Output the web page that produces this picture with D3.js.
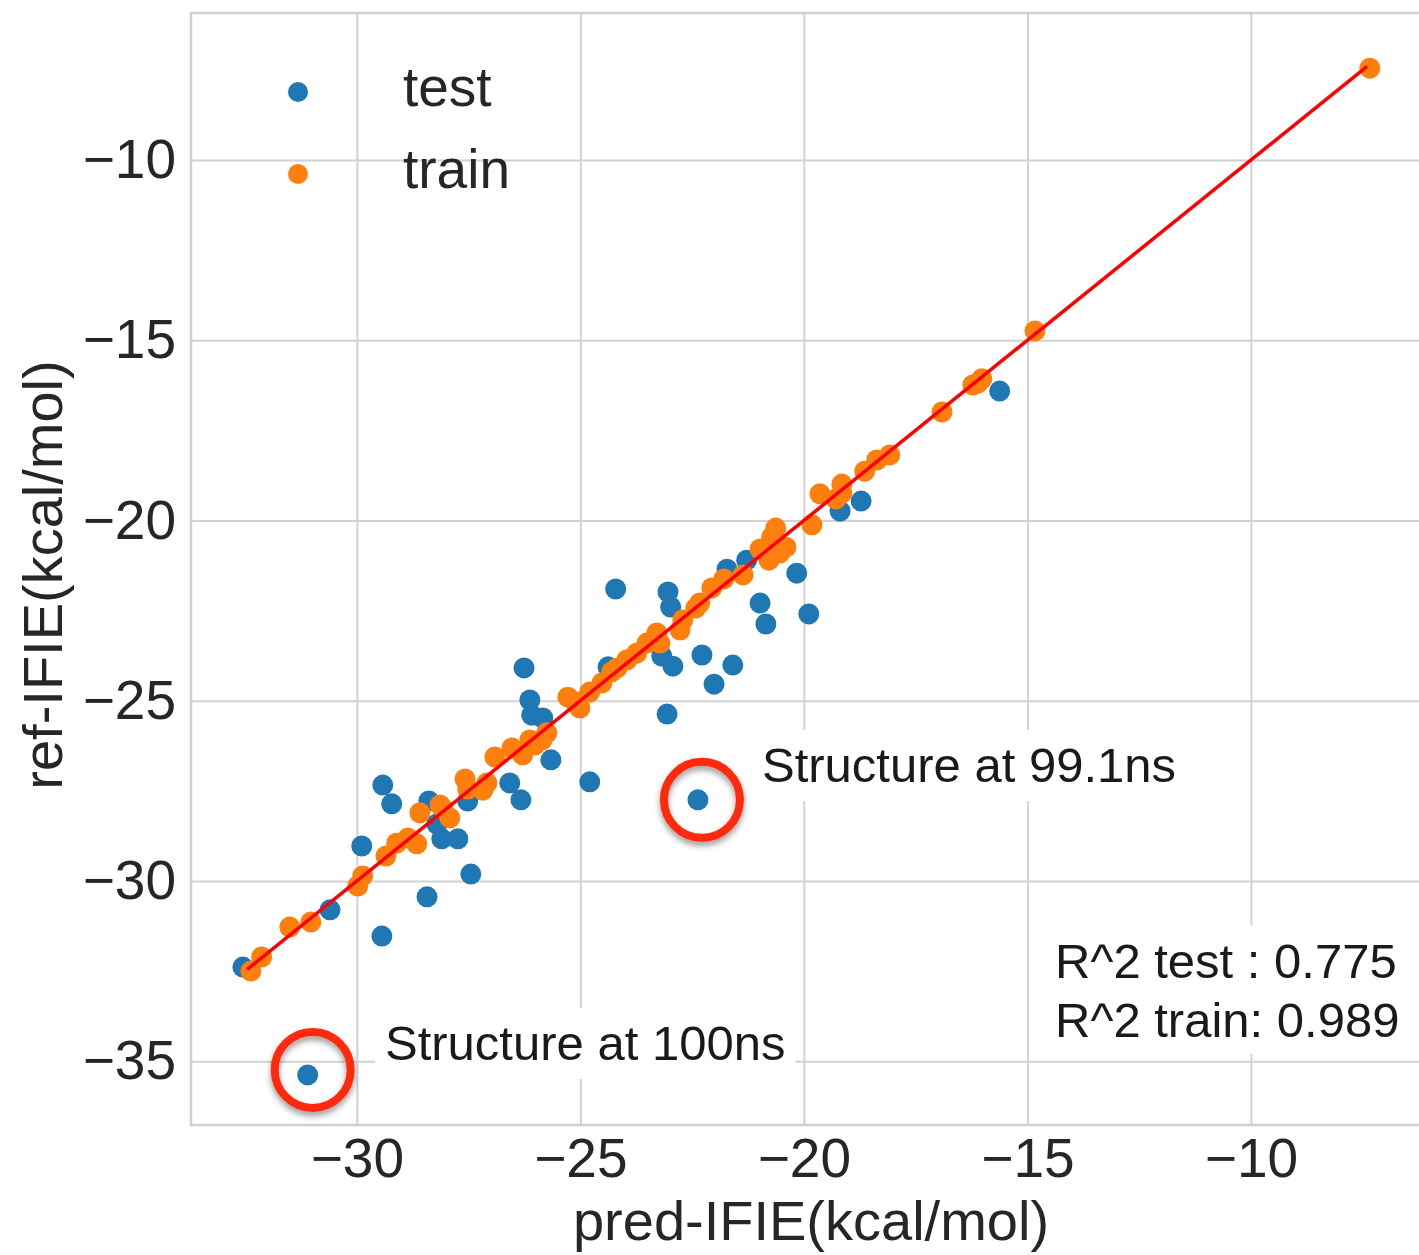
<!DOCTYPE html>
<html>
<head>
<meta charset="utf-8">
<title>IFIE parity plot</title>
<script src="https://d3js.org/d3.v7.min.js"></script>
<style>
    body {
        margin: 0;
        background: #fff;
        font-family: 'Liberation Sans', Arial, Helvetica, sans-serif;
    }
    .grid line {
        stroke: #d2d2d2;
        stroke-width: 2px;
    }
    .grid path {
        display: none;
    }
    .tickLabels path {
        display: none;
    }
    .tickLabels text {
        font-size: 55px;
        fill: #262626;
    }
    .axisTitle {
        font-size: 56px;
        fill: #262626;
    }
    .note {
        font-size: 49px;
        fill: #1a1a1a;
    }
</style>
</head>
<body>
<svg id="chart" width="1419" height="1255"></svg>
<script>
    // test points (pred, ref)
    var testPred = [-32.55, -30.60, -29.44, -29.89, -29.42, -29.22, -28.39, -28.21, -28.10, -27.74,
        -28.43, -27.45, -27.52, -26.58, -26.33, -26.26, -26.13, -26.09, -25.84, -25.66,
        -24.79, -24.38, -24.21, -23.18, -23.04, -22.98, -22.93, -23.06, -22.28, -22.01,
        -21.59, -21.72, -21.28, -20.98, -20.85, -20.16, -19.89, -19.19, -18.72, -15.62,
        -22.37, -31.10];
    var testRef = [-32.39, -30.80, -31.53, -29.03, -27.34, -27.86, -27.78, -28.42, -28.83, -28.83,
        -30.44, -29.81, -27.78, -27.28, -27.75, -24.09, -24.98, -25.40, -25.48, -26.64,
        -27.25, -24.06, -21.90, -23.76, -21.98, -22.40, -24.04, -25.37, -23.73, -24.54,
        -24.01, -21.35, -21.10, -22.29, -22.87, -21.46, -22.59, -19.74, -19.46, -16.41,
        -27.75, -35.38];

    // train points (pred, ref)
    var trainPred = [-32.37, -32.13, -31.50, -31.03, -29.98, -29.87, -29.35, -29.11, -28.86, -28.66,
        -28.59, -28.08, -27.92, -28.14, -27.58, -27.52, -27.18, -27.09, -26.91, -26.53,
        -26.29, -26.13, -25.86, -25.75, -26.02, -25.28, -25.01, -25.12, -24.79, -24.52,
        -24.30, -24.18, -23.96, -23.74, -23.51, -23.29, -23.22, -22.77, -22.71, -22.42,
        -22.33, -22.06, -21.79, -21.36, -20.98, -20.78, -20.72, -20.63, -20.54, -20.40,
        -19.82, -19.64, -19.28, -19.15, -19.15, -18.64, -18.37, -18.08, -16.91, -16.22,
        -16.11, -16.02, -14.83, -7.34];
    var trainRef = [-32.50, -32.11, -31.28, -31.14, -30.14, -29.86, -29.31, -28.95, -28.81, -28.97,
        -28.11, -27.98, -28.25, -27.89, -27.17, -27.45, -27.48, -27.28, -26.56, -26.31,
        -26.50, -26.09, -26.09, -25.89, -26.23, -24.90, -25.20, -25.03, -24.76, -24.51,
        -24.20, -24.09, -23.87, -23.68, -23.40, -23.12, -23.40, -23.04, -22.76, -22.43,
        -22.29, -21.87, -21.62, -21.51, -20.79, -21.10, -20.46, -20.21, -20.90, -20.74,
        -20.12, -19.26, -19.40, -18.99, -19.24, -18.63, -18.32, -18.18, -16.99, -16.24,
        -16.19, -16.07, -14.74, -7.45];

    var fitLine = [-32.45, -7.4];   // y = x fit across the train range
    var xTicks = [-30, -25, -20, -15, -10];
    var yTicks = [-35, -30, -25, -20, -15, -10];
    var seriesNames = ["test", "train"];
    var seriesColors = ["#1f77b4", "#ff7f0e"];
    var scores = ["R^2 test : 0.775", "R^2 train: 0.989"];
    // highlighted structures: [pred, ref, label]
    var outliers = [[-22.37, -27.75, "Structure at 99.1ns"], [-31.10, -35.38, "Structure at 100ns"]];

    var svg = d3.select("#chart");
    var margin = {top: 13, right: 0, bottom: 130, left: 191};
    var width = 1419 - margin.left - margin.right,
        height = 1255 - margin.top - margin.bottom;

    var defs = svg.append("defs");
    defs.append("filter").attr("id", "shadow")
        .attr("x", "-30%").attr("y", "-30%").attr("width", "160%").attr("height", "170%")
        .append("feDropShadow")
        .attr("dx", 0).attr("dy", 4).attr("stdDeviation", 3)
        .attr("flood-color", "#000").attr("flood-opacity", 0.4);

    var g = svg.append("g").attr("transform", "translate(" + margin.left + "," + margin.top + ")");

    var x = d3.scaleLinear().domain([-33.71, -6.24]).range([0, width]);
    var y = d3.scaleLinear().domain([-36.77, -5.92]).range([height, 0]);

    // grid
    g.append("g").attr("class", "grid")
        .attr("transform", "translate(0," + height + ")")
        .call(d3.axisBottom(x).tickValues(xTicks).tickSize(-height).tickFormat(""));
    g.append("g").attr("class", "grid")
        .call(d3.axisLeft(y).tickValues(yTicks).tickSize(-width).tickFormat(""));

    // frame
    g.append("rect")
        .attr("x", 0).attr("y", 0)
        .attr("width", width + 5).attr("height", height)
        .attr("fill", "none").attr("stroke", "#cfcfcf").attr("stroke-width", 2.5);

    // tick labels
    g.append("g").attr("class", "tickLabels")
        .attr("transform", "translate(0," + height + ")")
        .call(d3.axisBottom(x).tickValues(xTicks).tickSize(0).tickPadding(13));
    g.append("g").attr("class", "tickLabels")
        .call(d3.axisLeft(y).tickValues(yTicks).tickSize(0).tickPadding(15));

    svg.append("text").attr("class", "axisTitle")
        .attr("x", margin.left + width / 2 + 6).attr("y", 1240)
        .attr("text-anchor", "middle")
        .text("pred-IFIE(kcal/mol)");
    svg.append("text").attr("class", "axisTitle")
        .attr("transform", "translate(62,575) rotate(-90)")
        .attr("text-anchor", "middle")
        .text("ref-IFIE(kcal/mol)");

    // scatter
    var r = 10.5;
    g.append("g").selectAll("circle")
        .data(testPred.map(function(d, i) { return [d, testRef[i]]; }))
        .enter().append("circle")
        .attr("cx", d => x(d[0])).attr("cy", d => y(d[1]))
        .attr("r", r).attr("fill", seriesColors[0]);
    g.append("g").selectAll("circle")
        .data(trainPred.map(function(d, i) { return [d, trainRef[i]]; }))
        .enter().append("circle")
        .attr("cx", d => x(d[0])).attr("cy", d => y(d[1]))
        .attr("r", r).attr("fill", seriesColors[1]);

    g.append("line")
        .attr("x1", x(fitLine[0])).attr("y1", y(fitLine[0]))
        .attr("x2", x(fitLine[1])).attr("y2", y(fitLine[1]))
        .attr("stroke", "#ff0000").attr("stroke-width", 3.5);

    // legend
    var legend = svg.append("g");
    seriesNames.forEach(function(name, i) {
        legend.append("circle")
            .attr("cx", 298).attr("cy", 92 + i * 82)
            .attr("r", 10).attr("fill", seriesColors[i]);
        legend.append("text")
            .attr("x", 403).attr("y", 92 + i * 82 + 14)
            .style("font-size", "55px").style("fill", "#262626")
            .text(name);
    });

    // circled outliers + labels
    var labelPos = [[762, 782], [385, 1060]];
    var ringShift = [[4, 0], [5, -5]];
    outliers.forEach(function(o, i) {
        g.append("circle")
            .attr("cx", x(o[0]) + ringShift[i][0]).attr("cy", y(o[1]) + ringShift[i][1])
            .attr("r", 38)
            .attr("fill", "none").attr("stroke", "#ff2a0a").attr("stroke-width", 8)
            .attr("filter", "url(#shadow)");
        var t = svg.append("text").attr("class", "note")
            .attr("x", labelPos[i][0]).attr("y", labelPos[i][1])
            .text(o[2]);
        var bb = t.node().getBBox();
        svg.insert("rect", "text.note")
            .attr("x", bb.x - 10).attr("y", labelPos[i][1] - 52)
            .attr("width", bb.width + 20).attr("height", 71)
            .attr("fill", "#fff");
    });

    // R^2 box
    var scoreG = svg.append("g");
    var scoreRect = scoreG.append("rect").attr("fill", "#fff");
    var maxW = 0;
    scores.forEach(function(s, i) {
        var t = scoreG.append("text").attr("class", "note")
            .attr("x", 1055).attr("y", 978 + i * 59)
            .text(s);
        maxW = Math.max(maxW, t.node().getBBox().width);
    });
    scoreRect.attr("x", 1045).attr("y", 925).attr("width", maxW + 20).attr("height", 129);
</script>
</body>
</html>
